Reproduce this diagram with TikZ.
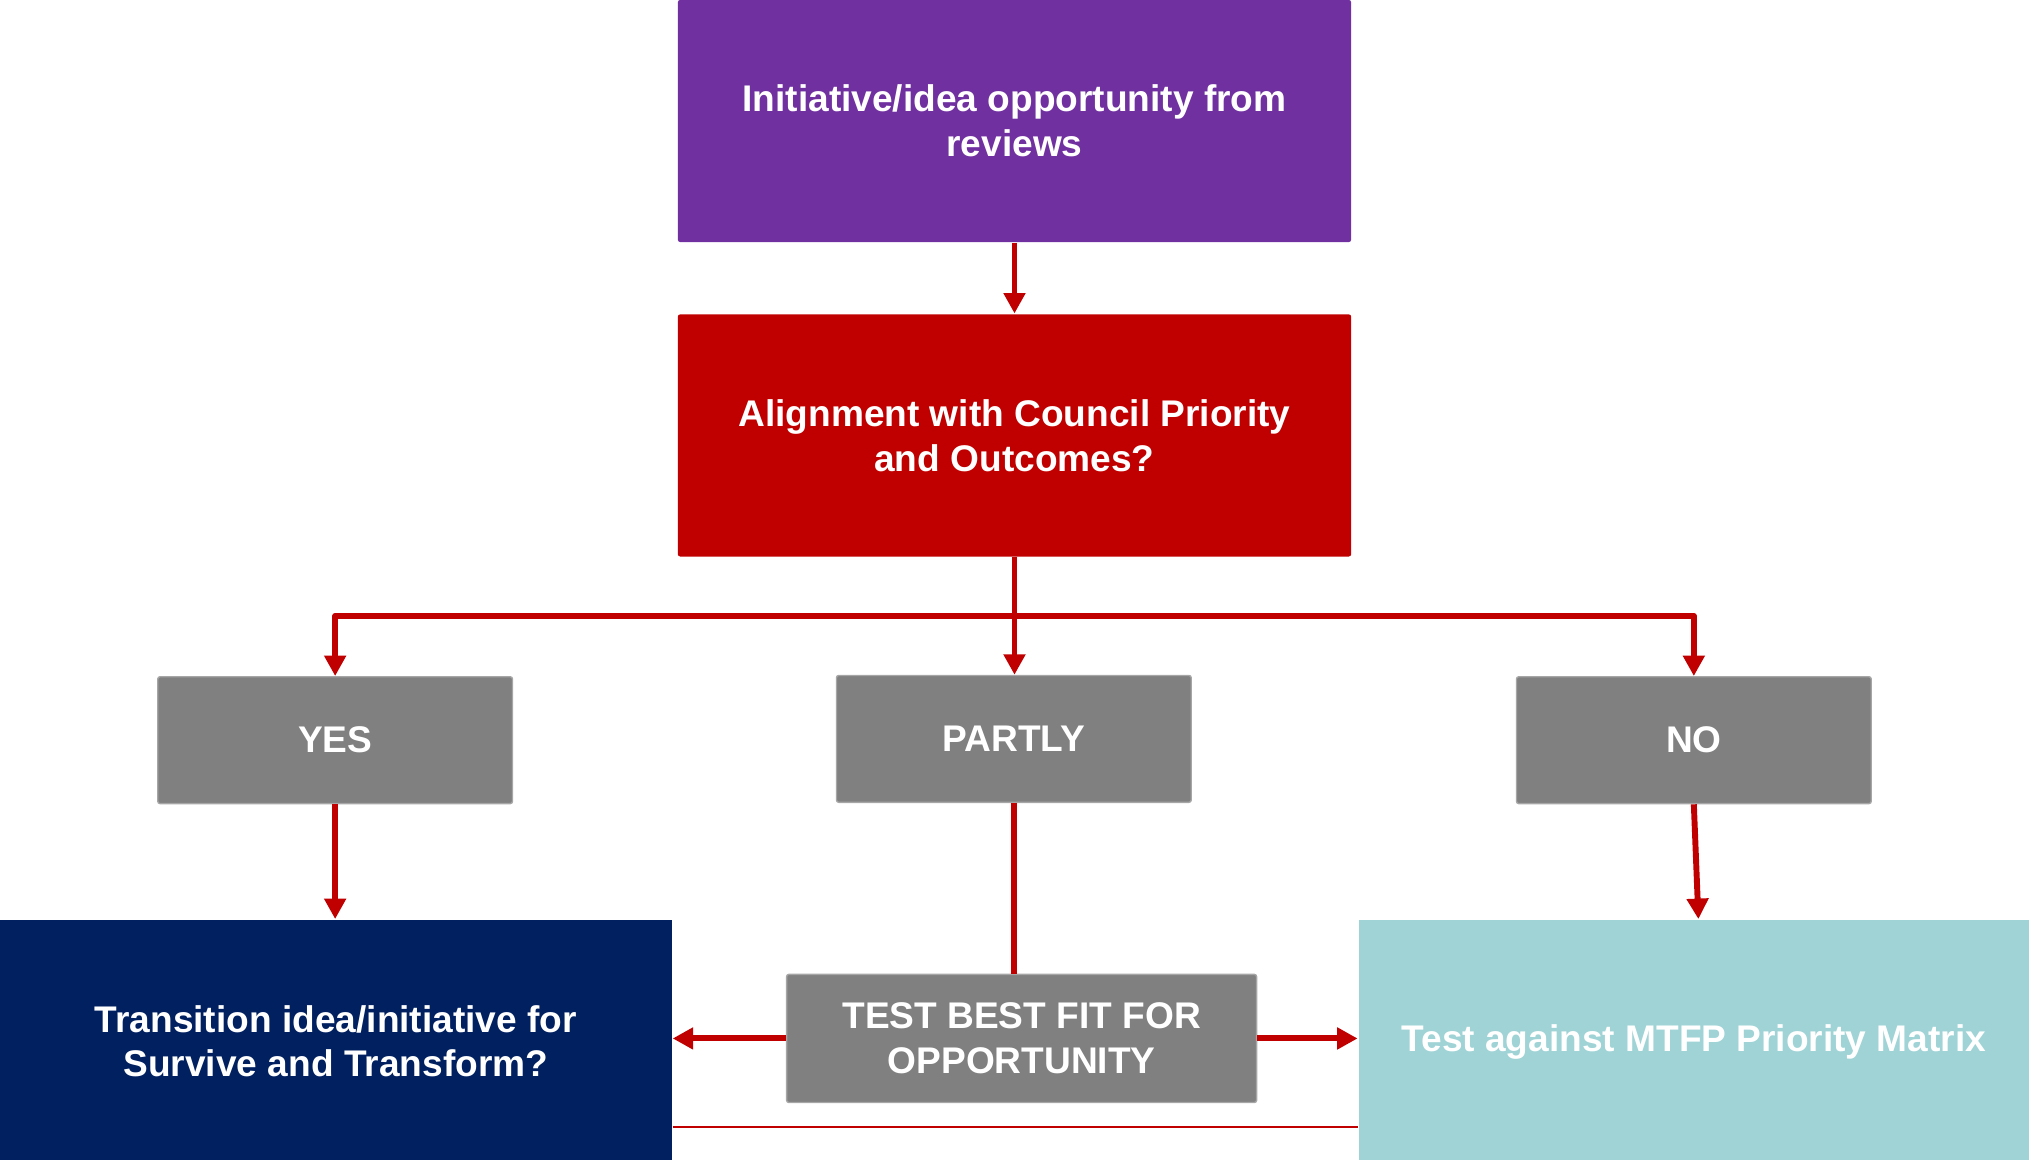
\documentclass[tikz,border=0pt]{standalone}
\usepackage{fontspec}
\setmainfont{Liberation Sans}
\usetikzlibrary{arrows.meta}
\definecolor{boxpurple}{HTML}{7030A0}
\definecolor{boxred}{HTML}{C00000}
\definecolor{boxgray}{HTML}{808080}
\definecolor{boxnavy}{HTML}{002060}
\definecolor{boxteal}{HTML}{9FD3D6}
\definecolor{linered}{HTML}{C00000}
\tikzset{
	box/.style={minimum width=5.2cm,minimum height=1.87cm,align=center,text=white,inner sep=0pt,rounded corners=0.5pt,font=\fontsize{8.15}{9.8}\selectfont\bfseries},
	answer/.style={box,fill=boxgray,draw=boxgray!70,line width=0.3pt,minimum width=2.74cm,minimum height=0.98cm},
	flow/.style={linered,line width=1.3pt,line join=round,-{Triangle[width=4.6pt,length=4.5pt]}},
	flowline/.style={linered,line width=1.3pt}
}

\begin{document}
\begin{tikzpicture}[x=0.01cm,y=0.01cm]
	    \useasboundingbox (0,0) rectangle (1568,-896);
	    \node[box,fill=boxpurple] (init) at (784,-93.5) {Initiative/idea opportunity from\\reviews};
	    \node[box,fill=boxred] (align) at (784,-336.5) {Alignment with Council Priority\\and Outcomes?};
	    \node[answer] (yes) at (259,-572) {YES};
	    \node[answer] (partly) at (783.5,-571) {PARTLY};
	    \node[answer] (no) at (1309,-572) {NO};
	    \node[box,fill=boxnavy,minimum width=5.19cm,minimum height=1.87cm,rounded corners=0pt] (transition) at (259.5,-804.5) {Transition idea/initiative for\\Survive and Transform?};
	    \node[answer,minimum width=3.63cm,minimum height=0.99cm] (testfit) at (789.5,-802.5) {TEST BEST FIT FOR\\OPPORTUNITY};
	    \node[box,fill=boxteal,minimum width=5.18cm,minimum height=1.89cm,rounded corners=0pt] (mtfp) at (1309,-805.5) {Test against MTFP Priority Matrix};
	    \coordinate (split) at (784,-476);
	    \coordinate (base) at (0,-871);
	    \draw[flow] (init) -- (align);
	    \draw[flow] (align.south) -- (align.south |- partly.north);
	    \draw[flow] (align.south) -- (split) -| (yes.north);
	    \draw[flow] (split) -| (no.north);
	    \draw[flow] (yes.south) -- (yes.south |- transition.north);
	    \draw[flow] (no.south) -- ([xshift=1]no.south |- mtfp.north);
	    \draw[flowline] (partly.south) -- (partly.south |- testfit.north);
	    \draw[flow] (testfit.west) -- (testfit.west -| transition.east);
	    \draw[flow] (testfit.east) -- (testfit.east -| mtfp.west);
	    \draw[linered,line width=0.4pt] (transition.east |- base) -- (mtfp.west |- base);
	\end{tikzpicture}
\end{document}
